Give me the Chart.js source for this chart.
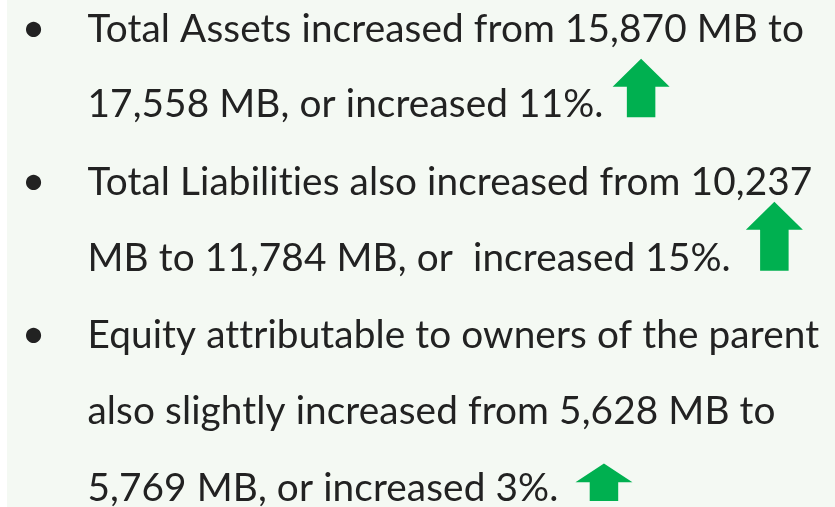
<!DOCTYPE html>
<html>
<head>
<meta charset="utf-8">
<script src="https://cdn.jsdelivr.net/npm/chart.js@4.4.1/dist/chart.umd.min.js"></script>
<style>
  html, body { margin:0; padding:0; width:835px; height:507px; overflow:hidden; background:#ffffff; }
  #panel { position:absolute; left:7px; top:0; width:828px; height:507px; background:#F4F9F3; }
  #wrap { position:absolute; left:0; top:0; width:835px; height:507px; }
</style>
</head>
<body>
<div id="panel"></div>
<div id="wrap"><canvas id="c"></canvas></div>
<script>
// ---- data ----
const categories = ['Total Assets', 'Total Liabilities', 'Equity attributable to owners of the parent'];
const valuesFromMB = [15870, 10237, 5628];
const valuesToMB = [17558, 11784, 5769];
const pctIncrease = [11, 15, 3];
const bulletLines = [
  ['Total Assets increased from 15,870 MB to', '17,558 MB, or increased 11%.'],
  ['Total Liabilities also increased from 10,237', 'MB to 11,784 MB, or  increased 15%.'],
  ['Equity attributable to owners of the parent', 'also slightly increased from 5,628 MB to', '5,769 MB, or increased 3%.']
];

// ---- style / layout ----
const FONT = 'Lato, "Open Sans", sans-serif';
const TEXT_COLOR = '#222222';
const ARROW_COLOR = '#00B050';
const TEXT_X = 87.5;
const FIRST_LINE_WIDTH = 714;
const BASELINES = [41.7, 117.3, 195, 270.7, 348.3, 424.3, 501];
const BULLET_X = 33.7;
const ARROW_GAP = [9, 15, 17];
const ARROW_BASE = -11.3;   // value at which the arrow foot sits (scale units)
const PX_PER_UNIT = 2.625;
const HEAD_W = 57, HEAD_H_MAX = 28, SHAFT_W = 28.5;

function drawArrow(ctx, left, bottom, h) {
  const cx = left + HEAD_W / 2;
  const headH = Math.min(HEAD_H_MAX, h / 2);
  const top = bottom - h;
  ctx.beginPath();
  ctx.moveTo(cx, top);
  ctx.lineTo(left + HEAD_W, top + headH);
  ctx.lineTo(cx + SHAFT_W / 2, top + headH);
  ctx.lineTo(cx + SHAFT_W / 2, bottom);
  ctx.lineTo(cx - SHAFT_W / 2, bottom);
  ctx.lineTo(cx - SHAFT_W / 2, top + headH);
  ctx.lineTo(left, top + headH);
  ctx.closePath();
  ctx.fillStyle = ARROW_COLOR;
  ctx.fill();
}

const slidePlugin = {
  id: 'slideText',
  afterDraw(chart) {
    const ctx = chart.ctx;
    const yScale = chart.scales.y;
    ctx.save();
    if ('letterSpacing' in ctx) ctx.letterSpacing = '0.1px'; // disables "ti" ligatures like the original
    ctx.font = '100px ' + FONT;
    const fs = 100 * FIRST_LINE_WIDTH / ctx.measureText(bulletLines[0][0]).width;
    ctx.font = fs.toFixed(2) + 'px ' + FONT;
    ctx.textBaseline = 'alphabetic';
    let li = 0;
    bulletLines.forEach((lines, i) => {
      lines.forEach((line, j) => {
        const by = BASELINES[li++];
        ctx.fillStyle = TEXT_COLOR;
        if (j === 0) {
          ctx.textAlign = 'center';
          ctx.font = (fs * 1.05).toFixed(2) + 'px ' + FONT;
          ctx.fillText('\u2022', BULLET_X, by);
          ctx.font = fs.toFixed(2) + 'px ' + FONT;
        }
        ctx.textAlign = 'left';
        ctx.fillText(line, TEXT_X, by);
        if (j === lines.length - 1) {
          const w = ctx.measureText(line).width;
          const h = yScale.getPixelForValue(ARROW_BASE) - yScale.getPixelForValue(pctIncrease[i]);
          drawArrow(ctx, TEXT_X + w + ARROW_GAP[i], by, h);
        }
      });
    });
    ctx.restore();
  }
};

function build() {
  new Chart(document.getElementById('c'), {
    type: 'bar',
    data: {
      labels: categories,
      datasets: [{ label: '% increase', data: pctIncrease, backgroundColor: 'rgba(0,0,0,0)', borderWidth: 0 }]
    },
    options: {
      responsive: true,
      maintainAspectRatio: false,
      animation: false,
      events: [],
      layout: { padding: 0 },
      plugins: { legend: { display: false }, tooltip: { enabled: false }, title: { display: false } },
      scales: {
        x: { display: false },
        y: { display: false, min: ARROW_BASE, max: ARROW_BASE + 507 / PX_PER_UNIT }
      }
    },
    plugins: [slidePlugin]
  });
}
if (document.fonts && document.fonts.load) {
  document.fonts.load('40px Lato').then(build, build);
} else { build(); }
</script>
</body>
</html>
